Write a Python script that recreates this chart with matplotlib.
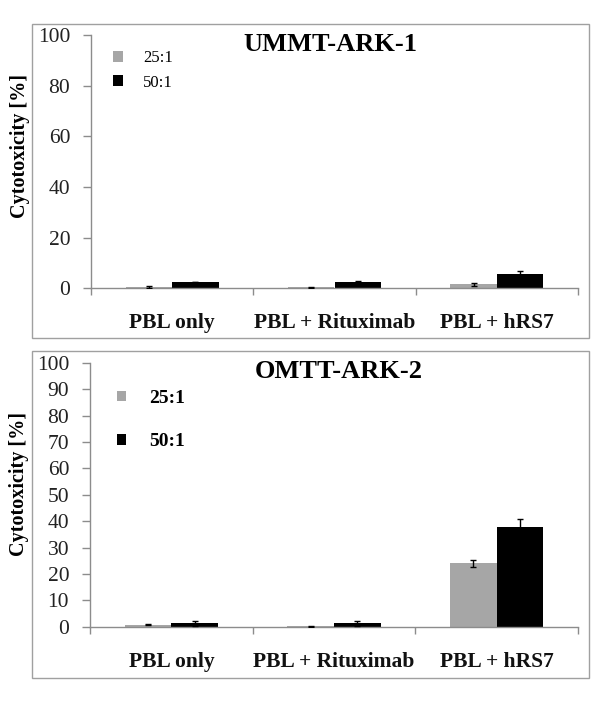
import matplotlib
matplotlib.use("Agg")
import matplotlib.pyplot as plt
from matplotlib.patches import Rectangle
import numpy as np

categories = ["PBL only", "PBL + Rituximab", "PBL + hRS7"]
series_labels = ["25:1", "50:1"]

# UMMT-ARK-1
top_25 = [0.5, 0.4, 1.6]
top_25_err = [0.3, 0.3, 0.6]
top_50 = [2.5, 2.5, 5.6]
top_50_err = [0.1, 0.4, 1.1]

# OMTT-ARK-2
bot_25 = [0.75, 0.1, 24.0]
bot_25_err = [0.2, 0.1, 1.3]
bot_50 = [1.3, 1.3, 37.8]
bot_50_err = [1.0, 1.0, 2.9]

titles = ["UMMT-ARK-1", "OMTT-ARK-2"]
ylabel = "Cytotoxicity [%]"

SERIF = ["Liberation Serif", "DejaVu Serif"]
GRAY = "#a6a6a6"
AXC = "#8c8c8c"
W, H = 600, 715

fig = plt.figure(figsize=(W / 100, H / 100), dpi=100)


def fx(px):
    return px / W


def fy(py):
    return 1 - py / H


# outer frames
for (x0, y0, x1, y1) in [(32, 24, 589, 338), (32, 351, 589, 678)]:
    fig.patches.append(Rectangle((fx(x0), fy(y1)), fx(x1) - fx(x0), fy(y0) - fy(y1),
                                 transform=fig.transFigure, fill=False,
                                 edgecolor="#a0a0a0", linewidth=1.0))

panels = [
    dict(rect=(91, 35, 578, 288.3), v25=top_25, e25=top_25_err, v50=top_50, e50=top_50_err,
         yt=np.arange(0, 101, 20), title=titles[0], tpos=(0.491, 0.964),
         legfs=12, legbold=False, legpos=(0.045, 0.94), legspace=0.5, ylpos=0.56,
         hl=0.6),
    dict(rect=(90, 363, 578, 626.7), v25=bot_25, e25=bot_25_err, v50=bot_50, e50=bot_50_err,
         yt=np.arange(0, 101, 10), title=titles[1], tpos=(0.51, 0.968),
         legfs=14, legbold=True, legpos=(0.055, 0.897), legspace=1.35, ylpos=0.54,
         hl=0.45),
]

x = np.arange(len(categories))
bw = 0.287

for p in panels:
    l, t, r, b = p["rect"]
    ax = fig.add_axes([fx(l), fy(b), fx(r) - fx(l), fy(t) - fy(b)])
    b1 = ax.bar(x - bw / 2, p["v25"], bw, color=GRAY, label=series_labels[0], zorder=2)
    b2 = ax.bar(x + bw / 2, p["v50"], bw, color="black", label=series_labels[1], zorder=2)
    ax.errorbar(x - bw / 2, p["v25"], yerr=p["e25"], fmt="none", ecolor="black",
                elinewidth=1, capsize=2.5, capthick=1, zorder=3)
    ax.errorbar(x + bw / 2, p["v50"], yerr=p["e50"], fmt="none", ecolor="black",
                elinewidth=1, capsize=2.5, capthick=1, zorder=3)
    ax.set_xlim(-0.5, 2.5)
    ax.set_ylim(0, 100)
    ax.set_yticks(p["yt"])
    ax.set_yticklabels([str(v) for v in p["yt"]], fontfamily=SERIF, fontsize=15.5, color="#222222")
    ax.set_xticks([-0.5, 0.5, 1.5, 2.5])
    ax.set_xticklabels([])
    ax.set_xticks(x, minor=True)
    ax.set_xticklabels(categories, minor=True, fontfamily=SERIF, fontsize=15.5,
                       fontweight="bold", color="#111111")
    ax.tick_params(axis="x", which="minor", length=0, pad=18)
    ax.tick_params(axis="x", which="major", length=5, color=AXC, width=1, direction="out")
    ax.tick_params(axis="y", length=6, color=AXC, width=1, direction="out", pad=9)
    for s in ["top", "right"]:
        ax.spines[s].set_visible(False)
    for s in ["left", "bottom"]:
        ax.spines[s].set_color(AXC)
        ax.spines[s].set_linewidth(1)
    ax.text(p["tpos"][0], p["tpos"][1], p["title"], transform=ax.transAxes,
            ha="center", va="center", fontfamily=SERIF, fontsize=19, fontweight="bold")
    ax.text(-0.145, p["ylpos"], ylabel, transform=ax.transAxes, rotation=90,
            ha="center", va="center", fontfamily=SERIF, fontsize=14.5, fontweight="bold")
    leg = ax.legend(handles=[b1, b2], loc="upper left", bbox_to_anchor=p["legpos"],
                    frameon=False, borderpad=0, borderaxespad=0,
                    handlelength=p["hl"], handleheight=p["hl"], handletextpad=1.2,
                    labelspacing=p["legspace"],
                    prop=dict(family=SERIF, size=p["legfs"],
                              weight="bold" if p["legbold"] else "normal"))

fig.savefig("out.png", dpi=100)
